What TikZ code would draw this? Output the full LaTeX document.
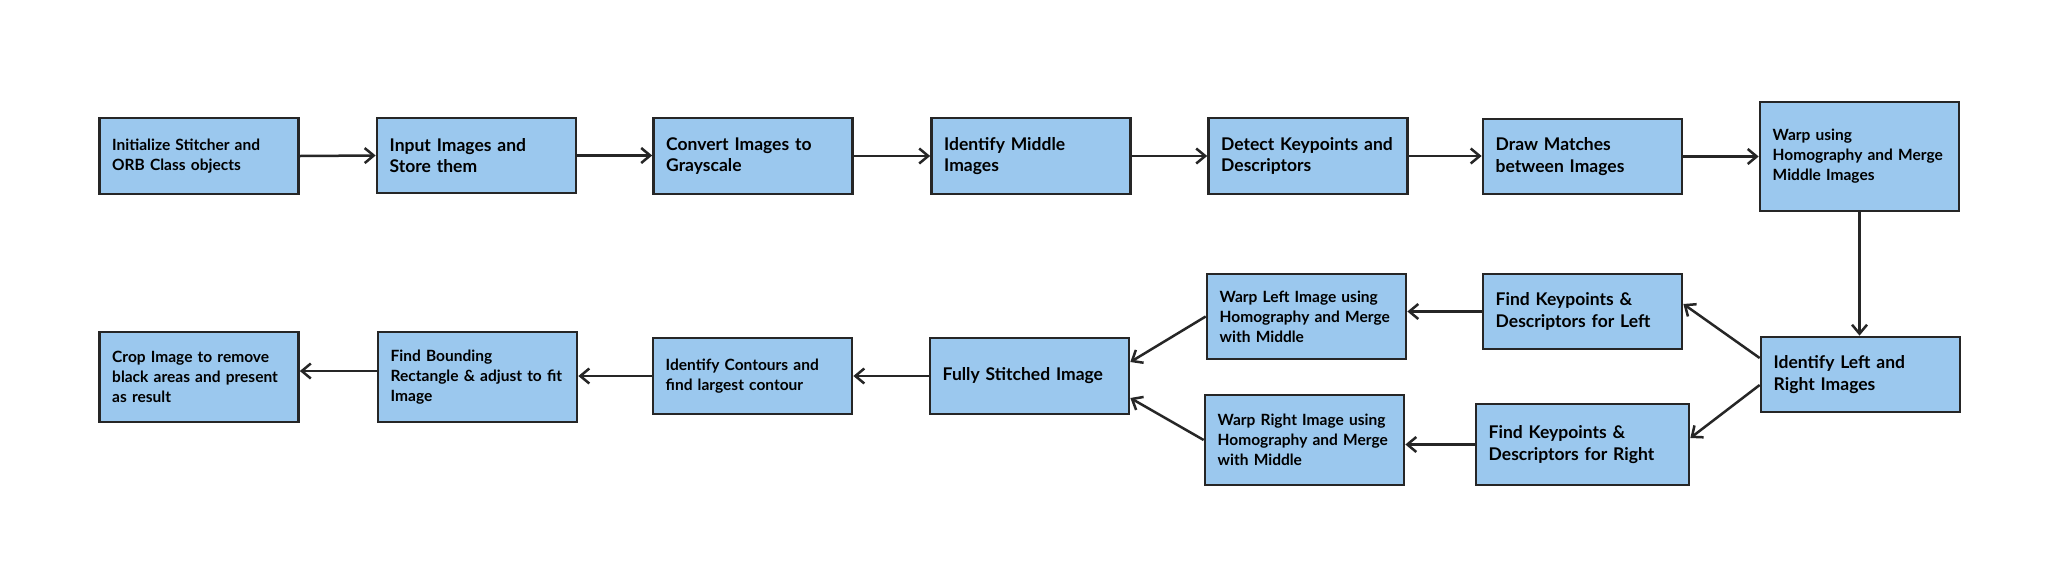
\documentclass[tikz,border=0pt]{standalone}
\usepackage{fontspec}
\setmainfont{Lato}
\usetikzlibrary{arrows.meta}
\definecolor{boxc}{RGB}{155,200,238}
\definecolor{linec}{RGB}{38,38,38}
\begin{document}
\begin{tikzpicture}[x=1pt,y=-1pt,
  box/.style={draw=linec, fill=boxc, line width=2.7pt, rectangle, align=left,
    inner xsep=12.7pt, inner ysep=0pt, text width=173.6pt, minimum width=199pt},
  sm/.style={font=\fontsize{15.5}{20}\selectfont\bfseries},
  lg/.style={font=\fontsize{17.5}{21.7}\selectfont\bfseries},
  arr/.style={draw=linec, line width=2.5pt, -{Straight Barb[length=9pt,width=15pt]}}]
\fill[white] (0,0) rectangle (2061,587);
\useasboundingbox (0,0) rectangle (2061,587);
% row 1
\node[box,sm,minimum height=76pt] (A) at (199,156) {Initialize Stitcher and\\ORB Class objects};
\node[box,lg,minimum height=75pt] (B) at (476.5,155.5) {Input Images and\\Store them};
\node[box,lg,minimum height=76pt] (C) at (753,156) {Convert Images to\\Grayscale};
\node[box,lg,minimum height=76pt] (D) at (1031,156) {Identify Middle\\Images};
\node[box,lg,minimum height=76pt] (E) at (1308,156) {Detect Keypoints and\\Descriptors};
\node[box,lg,minimum height=75pt] (F) at (1582.5,156.5) {Draw Matches\\between Images};
\node[box,sm,minimum height=109pt] (G) at (1859.5,156.5) {Warp using\\Homography and Merge\\Middle Images};
% row 2
\node[box,lg,minimum height=75pt] (H) at (1860.5,374.5) {Identify Left and\\Right Images};
\node[box,lg,minimum height=75pt] (I) at (1582.5,311.5) {Find Keypoints \&\\Descriptors for Left};
\node[box,lg,minimum height=81pt,minimum width=213pt,text width=187.6pt] (J) at (1582.5,444.5) {Find Keypoints \&\\Descriptors for Right};
\node[box,sm,minimum height=85pt] (K) at (1306.5,316.5) {Warp Left Image using\\Homography and Merge\\with Middle};
\node[box,sm,minimum height=90pt] (L) at (1304.5,440) {Warp Right Image using\\Homography and Merge\\with Middle};
\node[box,lg,minimum height=76pt] (M) at (1029.5,376) {Fully Stitched Image};
\node[box,sm,minimum height=76pt] (N) at (752.5,376) {Identify Contours and\\find largest contour};
\node[box,sm,minimum height=90pt] (O) at (477.5,377) {Find Bounding\\Rectangle \& adjust to fit\\Image};
\node[box,sm,minimum height=90pt] (P) at (199,377) {Crop Image to remove\\black areas and present\\as result};
% connectors
\draw[arr] (A.east) -- (B.west);
\draw[arr] (B.east) -- (B.east -| C.west);
\draw[arr] (C.east) -- (D.west);
\draw[arr] (D.east) -- (E.west);
\draw[arr] (E.east) -- (E.east -| F.west);
\draw[arr] (F.east) -- (G.west);
\draw[arr] (G.south) -- (G.south |- H.north);
\draw[arr] ([yshift=16.5pt]H.west) -- ([yshift=7.5pt]I.east);
\draw[arr] ([yshift=-10.5pt]H.west) -- ([yshift=6.5pt]J.east);
\draw[arr] (I.west) -- (I.west -| K.east);
\draw[arr] (J.west) -- (J.west -| L.east);
\draw[arr] (K.west) -- ([yshift=14pt]M.east);
\draw[arr] (L.west) -- ([yshift=-22pt]M.east);
\draw[arr] (M.west) -- (N.east);
\draw[arr] (N.west) -- (N.west -| O.east);
\draw[arr] ([yshift=6pt]O.west) -- ([yshift=6pt]P.east);
\end{tikzpicture}
\end{document}
